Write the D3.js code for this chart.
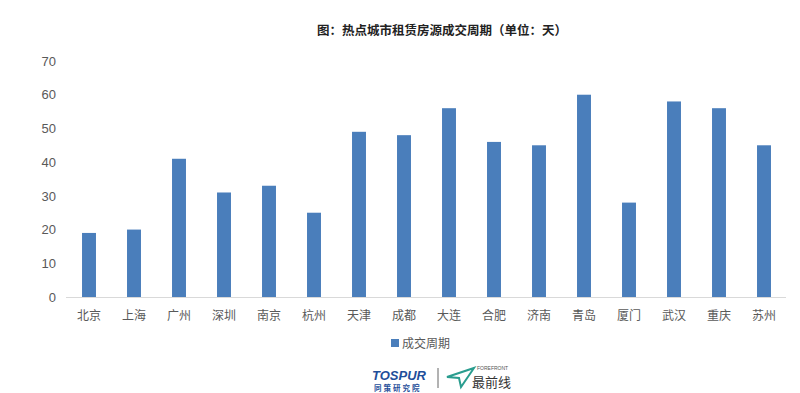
<!DOCTYPE html>
<html><head><meta charset="utf-8">
<script src="https://cdn.jsdelivr.net/npm/d3@7"></script>
<style>body{margin:0;background:#fff;font-family:"Noto Sans CJK SC","Microsoft YaHei",sans-serif;}</style>
</head><body>
<script>
const categories = ["北京","上海","广州","深圳","南京","杭州","天津","成都","大连","合肥","济南","青岛","厦门","武汉","重庆","苏州"];
const values = [19,20,41,31,33,25,49,48,56,46,45,60,28,58,56,45];
const yTicks = [0,10,20,30,40,50,60,70];
const seriesName = "成交周期";
const title = "图：热点城市租赁房源成交周期（单位：天）";

const W = 800, H = 393;
const svg = d3.select("body").append("svg").attr("width", W).attr("height", H);
const font = "'Noto Sans CJK SC', sans-serif";

const x = d3.scaleBand().domain(categories).range([66.5, 786.5]).paddingInner(0.69).paddingOuter(0.345);
const y = d3.scaleLinear().domain([0, 70]).range([297, 61]);

svg.append("text").attr("x", 442).attr("y", 35).attr("text-anchor", "middle")
  .attr("font-family", font).attr("font-weight", "bold").attr("font-size", 12.5).attr("fill", "#222").text(title);

// y axis labels
const ya = svg.append("g").attr("transform", "translate(56,0)")
  .call(d3.axisLeft(y).tickValues(yTicks).tickSize(0).tickPadding(0));
ya.select(".domain").remove();
ya.selectAll("text").attr("font-family", "'Liberation Sans', Arial, sans-serif").attr("font-size", 13).attr("fill", "#595959");

// bars
svg.append("g").selectAll("rect").data(values).join("rect")
  .attr("x", (d, i) => x(categories[i]))
  .attr("y", d => y(d))
  .attr("width", x.bandwidth())
  .attr("height", d => y(0) - y(d))
  .attr("fill", "#4a7ebb");

// x axis
const xa = svg.append("g").attr("transform", `translate(0,${y(0)})`)
  .call(d3.axisBottom(x).tickSize(0).tickPadding(14));
xa.select(".domain").attr("stroke", "#d9d9d9").attr("d", "M66,0.5H786");
xa.selectAll("text").attr("font-family", font).attr("font-size", 12).attr("fill", "#595959");

// legend
svg.append("rect").attr("x", 391).attr("y", 339).attr("width", 8).attr("height", 8).attr("fill", "#4a7ebb");
svg.append("text").attr("x", 402).attr("y", 347.5).attr("font-family", font).attr("font-size", 12).attr("fill", "#595959").text(seriesName);

// logos
svg.append("text").attr("x", 372).attr("y", 380).attr("font-family", "'Liberation Sans', Arial, sans-serif")
  .attr("font-weight", "bold").attr("font-style", "italic").attr("font-size", 13).attr("fill", "#1f4e9a").text("TOSPUR");
svg.append("text").attr("x", 374).attr("y", 391).attr("font-family", font).attr("font-weight", "bold")
  .attr("font-size", 7.5).attr("fill", "#1f4e9a").attr("letter-spacing", 2).text("同策研究院");
svg.append("line").attr("x1", 438).attr("x2", 438).attr("y1", 368).attr("y2", 388).attr("stroke", "#666").attr("stroke-width", 1);
svg.append("path").attr("d", "M447,377 L474,368 L461,387 L459,378 Z").attr("fill", "none").attr("stroke", "#2a9d8f").attr("stroke-width", 2);
svg.append("text").attr("x", 477).attr("y", 370).attr("font-family", "'Liberation Sans', Arial, sans-serif")
  .attr("font-size", 5).attr("fill", "#555").text("FOREFRONT");
svg.append("text").attr("x", 472).attr("y", 387).attr("font-family", font).attr("font-size", 13).attr("fill", "#333").text("最前线");
</script>
</body></html>
